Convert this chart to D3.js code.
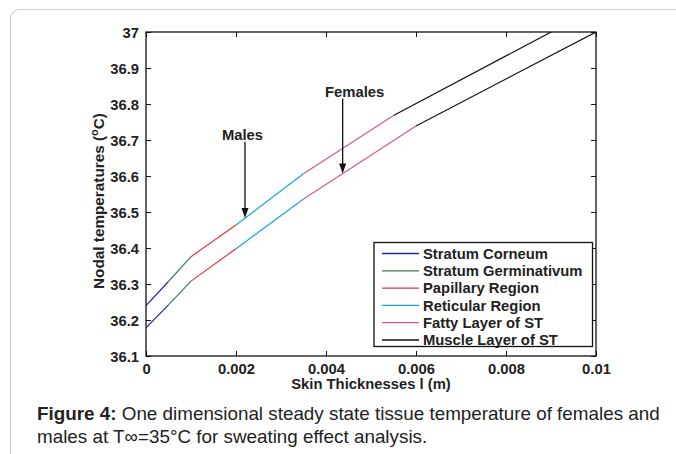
<!DOCTYPE html>
<html><head><meta charset="utf-8">
<script src="https://cdn.jsdelivr.net/npm/d3@7"></script>
<style>body{margin:0;background:#fff}svg{display:block}</style>
</head><body>
<svg id="c" width="676" height="454"></svg>
<script>
const layers = ["Stratum Corneum","Stratum Germinativum","Papillary Region","Reticular Region","Fatty Layer of ST","Muscle Layer of ST"];
const layerColors = ["#25259a","#3b7d5a","#f0303c","#1ba2d6","#c85a98","#111111"];
const maleX = [0, 0.0005, 0.001, 0.002, 0.0035, 0.0055, 0.01];
const maleT = [36.24, 36.307, 36.376, 36.464, 36.606, 36.768, 37.066];
const femaleX = [0, 0.0005, 0.001, 0.002, 0.0035, 0.006, 0.01];
const femaleT = [36.178, 36.242, 36.308, 36.398, 36.536, 36.739, 37.0];
const xTicks = [0, 0.002, 0.004, 0.006, 0.008, 0.01];
const yTicks = [36.1, 36.2, 36.3, 36.4, 36.5, 36.6, 36.7, 36.8, 36.9, 37];
const annotations = [
  {label:"Males", x:0.0022, top:36.695, tip:36.483},
  {label:"Females", x:0.00437, top:36.815, tip:36.607}
];
const labelShift = [-2.5, 12];

const svg = d3.select("#c");
const L=146, R=596, T=32, B=356;
const x = d3.scaleLinear().domain([0,0.01]).range([L,R]);
const y = d3.scaleLinear().domain([36.1,37]).range([B,T]);
const FS = 14.8;

svg.append("rect").attr("x",10.5).attr("y",9.5).attr("width",700).attr("height",500).attr("rx",9)
  .attr("fill","none").attr("stroke","#cfcfcf").attr("stroke-width",1.2);

svg.append("clipPath").attr("id","clip").append("rect").attr("x",L).attr("y",T).attr("width",R-L).attr("height",B-T);

const fontB = "Liberation Sans, Arial, sans-serif";

const fmtX = d => d===0 ? "0" : d3.format(".3~f")(d);
const fmtY = d => d3.format(".1~f")(d);
svg.append("g").attr("transform",`translate(0,${B})`)
  .call(d3.axisTop(x).tickValues(xTicks).tickSize(5).tickFormat(""));
svg.append("g").attr("transform",`translate(0,${B})`)
  .call(d3.axisBottom(x).tickValues(xTicks).tickSize(0).tickPadding(7).tickFormat(fmtX));
svg.append("g").attr("transform",`translate(0,${T})`)
  .call(d3.axisBottom(x).tickValues(xTicks).tickSize(5).tickFormat(""));
svg.append("g").attr("transform",`translate(${L},0)`)
  .call(d3.axisRight(y).tickValues(yTicks).tickSize(5).tickFormat(""));
const gyl = svg.append("g").attr("transform",`translate(${L},0)`)
  .call(d3.axisLeft(y).tickValues(yTicks).tickSize(0).tickPadding(7).tickFormat(fmtY));
svg.append("g").attr("transform",`translate(${R},0)`)
  .call(d3.axisLeft(y).tickValues(yTicks).tickSize(5).tickFormat(""));
svg.selectAll(".domain").remove();
svg.selectAll(".tick line").attr("stroke","#111").attr("stroke-width",1);
svg.selectAll(".tick text").attr("font-family",fontB).attr("font-weight","bold").attr("font-size",FS).attr("fill","#222");
gyl.selectAll(".tick text").attr("dy","0.36em");

svg.append("rect").attr("x",L).attr("y",T).attr("width",R-L).attr("height",B-T)
  .attr("fill","none").attr("stroke","#111").attr("stroke-width",1.3);

function segs(xs, ts){
  const out=[];
  for(let i=0;i<xs.length-1;i++) out.push({layer:i, pts:[[xs[i],ts[i]],[xs[i+1],ts[i+1]]]});
  return out;
}
const line = d3.line().x(d=>x(d[0])).y(d=>y(d[1]));
const gl = svg.append("g").attr("clip-path","url(#clip)");
[segs(maleX,maleT), segs(femaleX,femaleT)].forEach(ss=>{
  gl.selectAll(null).data(ss).enter().append("path")
    .attr("d",d=>line(d.pts)).attr("fill","none")
    .attr("stroke",d=>layerColors[Math.min(d.layer,5)]).attr("stroke-width",1.2);
});

annotations.forEach((a,i)=>{
  const xp = x(a.x), y0=y(a.top), y1=y(a.tip);
  svg.append("line").attr("x1",xp).attr("x2",xp).attr("y1",y0).attr("y2",y1-8).attr("stroke","#111").attr("stroke-width",1.3);
  svg.append("path").attr("d",`M${xp-3.5},${y1-10}L${xp+3.5},${y1-10}L${xp},${y1}Z`).attr("fill","#111");
  svg.append("text").attr("x",xp+labelShift[i]).attr("y",y0-2).attr("text-anchor","middle")
    .attr("font-family",fontB).attr("font-weight","bold").attr("font-size",FS).attr("fill","#222").text(a.label);
});

const lg = svg.append("g");
lg.append("rect").attr("x",374).attr("y",242.5).attr("width",218.5).attr("height",104)
  .attr("fill","#fff").attr("stroke","#111").attr("stroke-width",1.3);
layers.forEach((n,i)=>{
  const yy = 253.5 + i*17.3;
  lg.append("line").attr("x1",382).attr("x2",419).attr("y1",yy).attr("y2",yy).attr("stroke",layerColors[i]).attr("stroke-width",1.3);
  lg.append("text").attr("x",423).attr("y",yy).attr("dy","0.36em").attr("font-family",fontB).attr("font-weight","bold")
    .attr("font-size",FS).attr("fill","#222").text(n);
});

svg.append("text").attr("x",(L+R)/2).attr("y",389).attr("text-anchor","middle")
  .attr("font-family",fontB).attr("font-weight","bold").attr("font-size",FS).attr("fill","#222")
  .text("Skin Thicknesses l (m)");
const yl = svg.append("text").attr("transform",`translate(104,${(T+B)/2+7}) rotate(-90)`).attr("text-anchor","middle")
  .attr("font-family",fontB).attr("font-weight","bold").attr("font-size",15.3).attr("fill","#222");
yl.append("tspan").text("Nodal temperatures (");
yl.append("tspan").attr("dy",-6).attr("font-size",11).text("o");
yl.append("tspan").attr("dy",6).text("C)");

const cap1 = svg.append("text").attr("x",37).attr("y",420).attr("font-family",fontB).attr("font-size",17).attr("fill","#222");
cap1.append("tspan").attr("font-weight","bold").text("Figure 4:");
cap1.append("tspan").text(" One dimensional steady state tissue temperature of females and");
const w = cap1.node().getComputedTextLength();
const cfs = w>0 ? 17*623/w : 17;
cap1.attr("font-size",cfs);
svg.append("text").attr("x",37).attr("y",443).attr("font-family",fontB).attr("font-size",cfs).attr("fill","#222")
  .text("males at T\u221E=35\u00B0C for sweating effect analysis.");
</script>
</body></html>
